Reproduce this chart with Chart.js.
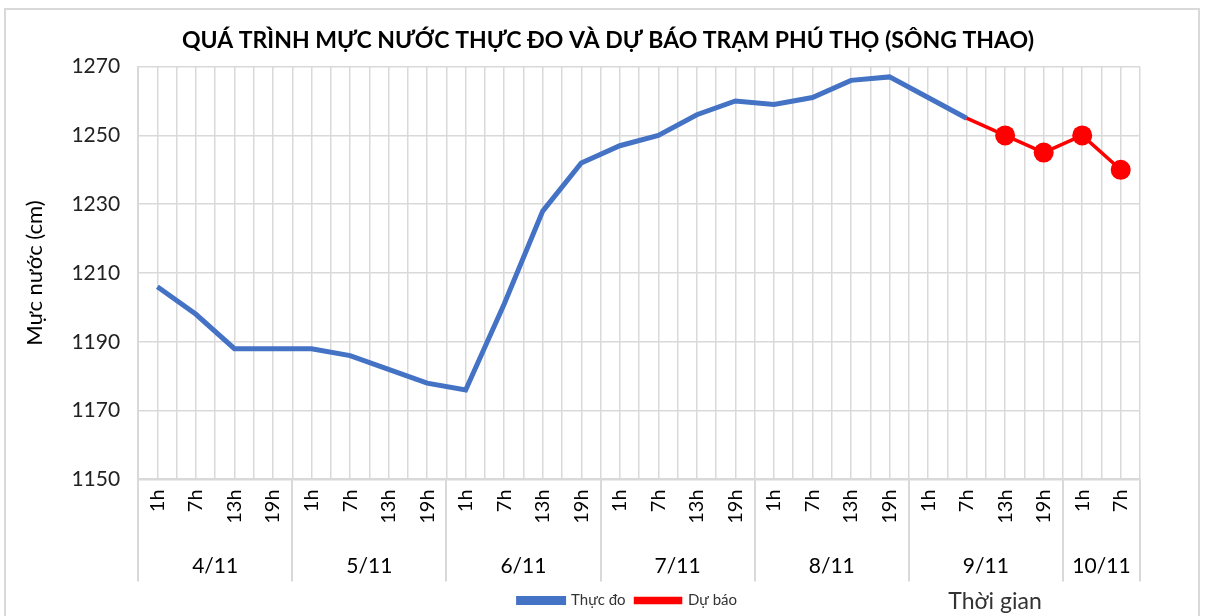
<!DOCTYPE html>
<html>
<head>
<meta charset="utf-8">
<script src="https://cdn.jsdelivr.net/npm/chart.js@4"></script>
<style>
  html, body { margin: 0; padding: 0; background: #fff; }
  .wrap { position: relative; width: 1206px; height: 616px; }
  .frame { position: absolute; left: 4px; top: 8px; width: 1196px; height: 620px; border: 2px solid #d9d9d9; box-sizing: border-box; }
</style>
</head>
<body>
<div class="wrap">
  <div class="frame"></div>
  <canvas id="myChart" width="1206" height="616"></canvas>
</div>
<script>
const labels = [
    '1h', '7h', '13h', '19h',
    '1h', '7h', '13h', '19h',
    '1h', '7h', '13h', '19h',
    '1h', '7h', '13h', '19h',
    '1h', '7h', '13h', '19h',
    '1h', '7h', '13h', '19h',
    '1h', '7h',
];

const days = ['4/11', '5/11', '6/11', '7/11', '8/11', '9/11', '10/11'];
const daySizes = [4, 4, 4, 4, 4, 4, 2];

// thuc do: 4/11 1h -> 9/11 7h
const observed = [
    1206, 1198, 1188, 1188,
    1188, 1186, 1182, 1178,
    1176, 1201, 1228, 1242,
    1247, 1250, 1256, 1260,
    1259, 1261, 1266, 1267,
    1261, 1255,
];

// du bao: 9/11 7h -> 10/11 7h
const forecast = [1255, 1250, 1245, 1250, 1240];
const forecastStart = 21;

const yTicks = [1150, 1170, 1190, 1210, 1230, 1250, 1270];

// pad series to the full label length
const observedData = labels.map((l, i) => i < observed.length ? observed[i] : null);
const forecastData = labels.map((l, i) => i >= forecastStart ? forecast[i - forecastStart] : null);

// day group boundaries and centers
const bounds = [0];
daySizes.forEach((s) => bounds.push(bounds[bounds.length - 1] + s));
const dayCenter = {};
days.forEach((d, i) => { dayCenter[bounds[i] + daySizes[i] / 2] = d; });

const gridColor = '#d9d9d9';
const font = 'Lato, "Open Sans", sans-serif';

const groupLines = {
    id: 'groupLines',
    afterDraw(chart) {
        const ctx = chart.ctx;
        const x2 = chart.scales.x2;
        ctx.save();
        ctx.strokeStyle = gridColor;
        ctx.lineWidth = 2;
        bounds.forEach((b) => {
            const px = Math.round(x2.getPixelForValue(b));
            ctx.beginPath();
            ctx.moveTo(px, chart.chartArea.bottom);
            ctx.lineTo(px, chart.chartArea.bottom + 102);
            ctx.stroke();
        });
        // x axis title sits next to the legend
        const lg = chart.legend;
        ctx.fillStyle = '#333';
        ctx.font = '23px ' + font;
        ctx.textAlign = 'center';
        ctx.textBaseline = 'middle';
        ctx.fillText('Thời gian', 995, lg.top + lg.height / 2 + 1);
        ctx.restore();
    }
};

const data = {
    labels: labels,
    datasets: [{
        label: 'Thực đo',
        data: observedData,
        borderColor: '#4472C4',
        backgroundColor: '#4472C4',
        borderWidth: 5,
        pointRadius: 0,
        tension: 0,
        order: 2,
    }, {
        label: 'Dự báo',
        data: forecastData,
        borderColor: '#FF0000',
        backgroundColor: '#FF0000',
        borderWidth: 3.5,
        pointRadius: (c) => c.dataIndex === forecastStart ? 0 : 10,
        pointHoverRadius: 10,
        pointBorderWidth: 0,
        tension: 0,
        order: 1,
    }]
};

const config = {
    type: 'line',
    data: data,
    options: {
        responsive: false,
        animation: false,
        layout: { padding: { left: 22, right: 12, top: 27, bottom: -2 } },
        plugins: {
            title: {
                display: true,
                text: 'QUÁ TRÌNH MỰC NƯỚC THỰC ĐO VÀ DỰ BÁO TRẠM PHÚ THỌ (SÔNG THAO)',
                color: '#000',
                font: { family: font, size: 23, weight: 'bold' },
                padding: { top: 0, bottom: 12 },
            },
            legend: {
                position: 'bottom',
                fullSize: false,
                labels: {
                    color: '#333',
                    font: { family: font, size: 15 },
                    boxWidth: 45,
                    boxHeight: 4,
                    padding: 10,
                    sort: (a, b) => a.datasetIndex - b.datasetIndex,
                    generateLabels: (chart) => {
                        const items = Chart.defaults.plugins.legend.labels.generateLabels(chart);
                        // wider gap after the first entry, like the original
                        items[0].text += '\u2003\u2003';
                        return items;
                    },
                },
            },
            tooltip: { enabled: false },
        },
        scales: {
            x: {
                type: 'category',
                offset: true,
                weight: 0,
                grid: { color: gridColor, lineWidth: 1.5, drawTicks: false },
                border: { color: gridColor, width: 2 },
                ticks: {
                    autoSkip: false,
                    minRotation: 90,
                    maxRotation: 90,
                    padding: 10,
                    color: '#000',
                    font: { family: font, size: 20 },
                },
            },
            x2: {
                type: 'linear',
                position: 'bottom',
                weight: 1,
                min: 0,
                max: labels.length,
                grid: { color: gridColor, lineWidth: 1.5, drawTicks: false },
                border: { display: false },
                afterBuildTicks: (scale) => {
                    scale.ticks = labels.map((l, i) => ({ value: i })).concat([{ value: labels.length }]);
                },
                afterFit: (scale) => { scale.height -= 16; },
                ticks: {
                    autoSkip: false,
                    maxRotation: 0,
                    padding: 20,
                    color: '#000',
                    font: { family: font, size: 21 },
                    callback: (v) => dayCenter[v] || '',
                },
            },
            y: {
                min: yTicks[0],
                max: yTicks[yTicks.length - 1],
                afterBuildTicks: (scale) => {
                    scale.ticks = yTicks.map((v) => ({ value: v }));
                },
                grid: { color: gridColor, lineWidth: 1.5, drawTicks: false },
                border: { color: gridColor, width: 2 },
                ticks: {
                    padding: 18,
                    color: '#222',
                    font: { family: font, size: 21 },
                    callback: (v) => String(v),
                },
                title: {
                    display: true,
                    text: 'Mực nước (cm)',
                    color: '#000',
                    font: { family: font, size: 22 },
                    padding: { top: 0, bottom: 5 },
                },
            },
            // empty right axis, only keeps the plot clear of the right edge
            yRight: {
                position: 'right',
                min: yTicks[0],
                max: yTicks[yTicks.length - 1],
                grid: { drawOnChartArea: false, drawTicks: false },
                border: { display: false },
                ticks: { display: false },
                afterFit: (scale) => { scale.width = 54; },
            },
        },
    },
    plugins: [groupLines],
};

const myChart = new Chart(
    document.getElementById('myChart'),
    config
);
</script>
</body>
</html>
